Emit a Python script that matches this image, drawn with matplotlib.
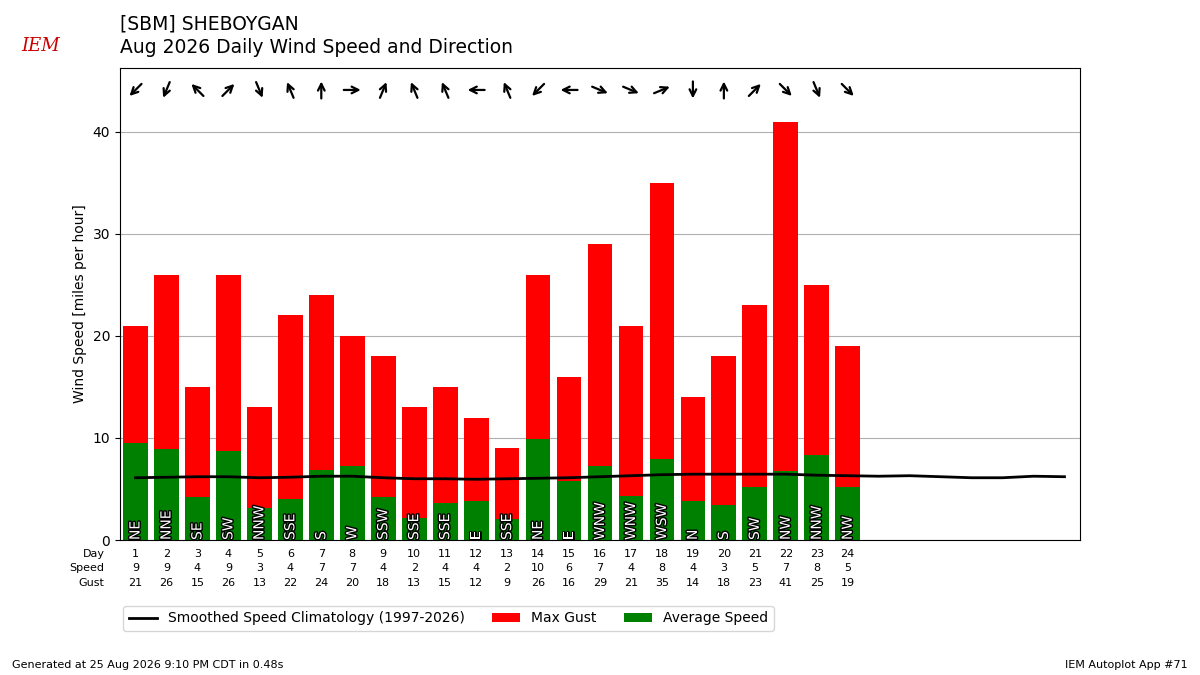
import matplotlib
matplotlib.use("Agg")
import numpy as np
import matplotlib.pyplot as plt
import matplotlib.patheffects as pe

days = list(range(1, 25))
avg_speed = [9.5, 8.9, 4.2, 8.7, 3.1, 4.0, 6.9, 7.3, 4.2, 2.2, 3.6, 3.8, 2.1, 9.9, 5.8, 7.3, 4.3, 7.9, 3.8, 3.4, 5.2, 6.8, 8.3, 5.2]
max_gust = [21, 26, 15, 26, 13, 22, 24, 20, 18, 13, 15, 12, 9, 26, 16, 29, 21, 35, 14, 18, 23, 41, 25, 19]
speed_lbl = [9, 9, 4, 9, 3, 4, 7, 7, 4, 2, 4, 4, 2, 10, 6, 7, 4, 8, 4, 3, 5, 7, 8, 5]
directions = ["NE", "NNE", "SE", "SW", "NNW", "SSE", "S", "W", "SSW", "SSE", "SSE", "E", "SSE",
              "NE", "E", "WNW", "WNW", "WSW", "N", "S", "SW", "NW", "NNW", "NW"]
clim_days = list(range(1, 32))
clim_speed = [6.1, 6.15, 6.2, 6.2, 6.1, 6.15, 6.25, 6.25, 6.1, 6.0, 6.0, 5.95, 6.0, 6.05, 6.1, 6.2,
              6.3, 6.4, 6.45, 6.45, 6.45, 6.45, 6.35, 6.3, 6.25, 6.3, 6.2, 6.1, 6.1, 6.25, 6.2]
compass = ["N", "NNE", "NE", "ENE", "E", "ESE", "SE", "SSE", "S", "SSW", "SW", "WSW", "W", "WNW", "NW", "NNW"]

fig = plt.figure(figsize=(12, 6.75), dpi=100)
ax = fig.add_axes([0.1, 0.2, 0.8, 0.7])
ax.bar(days, max_gust, color="red", label="Max Gust", zorder=2)
ax.bar(days, avg_speed, color="green", label="Average Speed", zorder=2)
ax.plot(clim_days, clim_speed, color="k", lw=2, label="Smoothed Speed Climatology (1997-2026)", zorder=3)
ax.set_xlim(0.5, 31.5)
ax.set_ylim(0, 46.3)
ax.set_xticks([])
ax.set_yticks([0, 10, 20, 30, 40])
ax.grid(axis="y", zorder=0)
ax.set_ylabel("Wind Speed [miles per hour]")

# pixels per data unit, for arrows of equal screen length
px_x = 960 / 31
px_y = 472 / 46.3
half = 8.5
for d, dr in zip(days, directions):
    t = ax.text(d, 0.0, dr, rotation=90, ha="center", va="bottom", color="white", fontsize=10, zorder=4)
    t.set_path_effects([pe.withStroke(linewidth=2, foreground="k")])
    # arrow points downwind
    ang = np.deg2rad(compass.index(dr) * 22.5)
    dx, dy = -np.sin(ang) * half / px_x, -np.cos(ang) * half / px_y
    ax.annotate("", xy=(d + dx, 44.1 + dy), xytext=(d - dx, 44.1 - dy),
                arrowprops=dict(arrowstyle="->", lw=1.6, color="k", mutation_scale=12,
                                shrinkA=0, shrinkB=0), zorder=5)

tf = ax.get_xaxis_transform()
for row, (name, vals) in enumerate([("Day", days), ("Speed", speed_lbl), ("Gust", max_gust)]):
    y = -0.03 - row * 0.03
    ax.text(0.0, y, name, transform=tf, ha="right", va="center", fontsize=8)
    for d, v in zip(days, vals):
        ax.text(d, y, str(v), transform=tf, ha="center", va="center", fontsize=8)

fig.legend(loc="lower left", bbox_to_anchor=(0.097, 0.055), ncol=3, fontsize=10,
           handles=[ax.lines[0], ax.containers[0], ax.containers[1]],
           labels=["Smoothed Speed Climatology (1997-2026)", "Max Gust", "Average Speed"])
fig.text(0.1, 0.95, "[SBM] SHEBOYGAN", fontsize=13.5, va="bottom")
fig.text(0.1, 0.915, "Aug 2026 Daily Wind Speed and Direction", fontsize=13.5, va="bottom")
fig.text(0.01, 0.01, "Generated at 25 Aug 2026 9:10 PM CDT in 0.48s", fontsize=8)
fig.text(0.99, 0.01, "IEM Autoplot App #71", fontsize=8, ha="right")
fig.text(0.018, 0.925, "IEM", color="#c00", fontsize=13, style="italic", family="DejaVu Serif")
fig.savefig("out.png", dpi=100)
